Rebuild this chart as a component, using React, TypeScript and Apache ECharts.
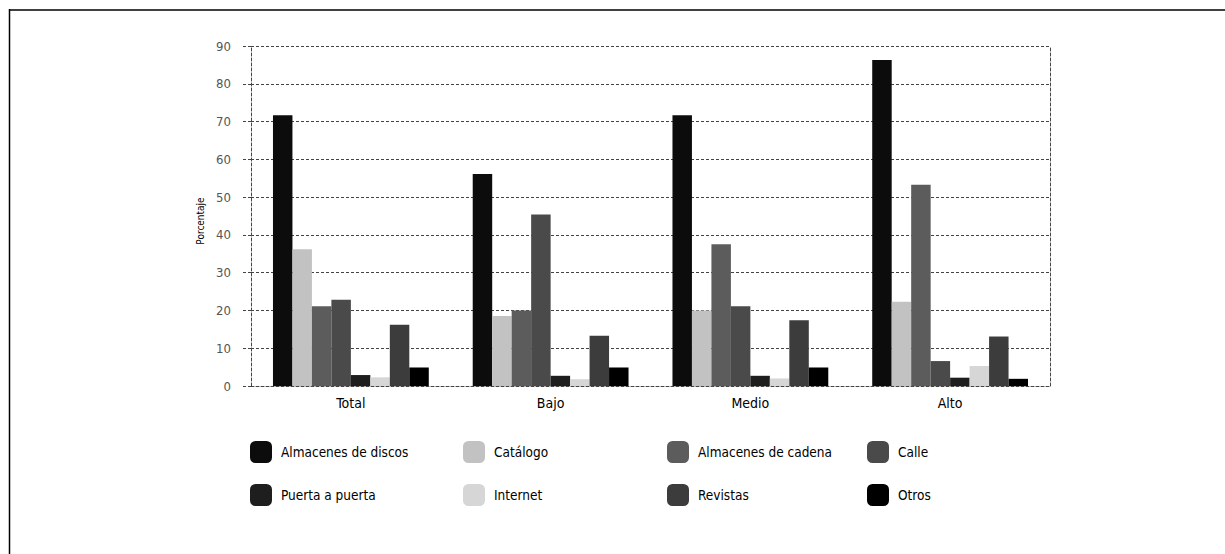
import React, { useEffect, useRef } from "react";
import * as echarts from "echarts";

const categories = ["Total", "Bajo", "Medio", "Alto"];
const seriesNames = [
  "Almacenes de discos",
  "Catálogo",
  "Almacenes de cadena",
  "Calle",
  "Puerta a puerta",
  "Internet",
  "Revistas",
  "Otros",
];
const almacenesDiscos = [71.7, 56.1, 71.7, 86.3];
const catalogo = [36.2, 18.5, 20.0, 22.3];
const almacenesCadena = [21.1, 20.0, 37.5, 53.3];
const calle = [22.8, 45.4, 21.1, 6.6];
const puertaAPuerta = [2.9, 2.7, 2.7, 2.2];
const internet = [2.3, 1.8, 2.0, 5.3];
const revistas = [16.2, 13.3, 17.4, 13.1];
const otros = [4.9, 4.9, 4.9, 1.9];
const yTicks = [0, 10, 20, 30, 40, 50, 60, 70, 80, 90];

const seriesValues = [
  almacenesDiscos,
  catalogo,
  almacenesCadena,
  calle,
  puertaAPuerta,
  internet,
  revistas,
  otros,
];
const colors = [
  "#0c0c0c",
  "#c2c2c2",
  "#5c5c5c",
  "#4a4a4a",
  "#1e1e1e",
  "#d6d6d6",
  "#3c3c3c",
  "#000000",
];

const FONT = "'Liberation Sans Narrow', 'DejaVu Sans Condensed', 'Noto Sans', sans-serif";
const legendCols = [250, 463, 667, 867];
const legendRows = [441, 484];

export default function App() {
  const ref = useRef<HTMLDivElement>(null);
  useEffect(() => {
    if (!ref.current) return;
    const chart = echarts.init(ref.current, null, { renderer: "svg" });
    const gridStyle = { color: "#444", type: [3, 2] as any, width: 1 };
    chart.setOption({
      animation: false,
      backgroundColor: "#ffffff",
      grid: { left: 251, right: 175, top: 46, bottom: 168 },
      xAxis: {
        type: "category",
        data: categories,
        axisLine: { show: true, lineStyle: gridStyle },
        axisTick: { show: false },
        axisLabel: {
          margin: 10,
          fontFamily: FONT,
          fontSize: 14,
          color: "#000",
        },
        splitLine: { show: false },
      },
      yAxis: [
        {
          type: "value",
          min: yTicks[0],
          max: yTicks[yTicks.length - 1],
          interval: 10,
          name: "Porcentaje",
          nameLocation: "middle",
          nameGap: 45,
          nameRotate: 90,
          nameTextStyle: { fontFamily: FONT, fontSize: 10, color: "#000", padding: [0, 10, 0, 0] },
          axisLine: { show: true, lineStyle: gridStyle },
          axisTick: { show: true, length: 8, lineStyle: gridStyle },
          axisLabel: {
            margin: 20,
            fontFamily: FONT,
            fontSize: 13,
            color: "#555",
          },
          splitLine: { show: true, lineStyle: gridStyle },
        },
        {
          type: "value",
          position: "right",
          min: yTicks[0],
          max: yTicks[yTicks.length - 1],
          interval: 10,
          axisLine: { show: true, lineStyle: gridStyle },
          axisTick: { show: false },
          axisLabel: { show: false },
          splitLine: { show: false },
        },
      ],
      legend: seriesNames.map((n, i) => ({
        data: [n],
        left: legendCols[i % 4],
        top: legendRows[Math.floor(i / 4)],
        padding: 0,
        itemWidth: 22,
        itemHeight: 22,
        icon: "roundRect",
        selectedMode: false,
        textStyle: {
          fontFamily: FONT,
          fontSize: 13.5,
          color: "#000",
          padding: [0, 0, 0, 4],
        },
      })),
      series: seriesNames.map((n, i) => ({
        name: n,
        type: "bar",
        data: seriesValues[i],
        barGap: "0%",
        barCategoryGap: "22%",
        itemStyle: { color: colors[i] },
      })),
      graphic: [
        {
          type: "line",
          shape: { x1: 9, y1: 10, x2: 1225, y2: 10 },
          style: { stroke: "#000", lineWidth: 1.5 },
        },
        {
          type: "line",
          shape: { x1: 9.5, y1: 9, x2: 9.5, y2: 554 },
          style: { stroke: "#000", lineWidth: 1.5 },
        },
      ],
    });
    return () => chart.dispose();
  }, []);
  return (
    <div
      ref={ref}
      style={{ position: "fixed", left: 0, top: 0, width: 1225, height: 554 }}
    />
  );
}
